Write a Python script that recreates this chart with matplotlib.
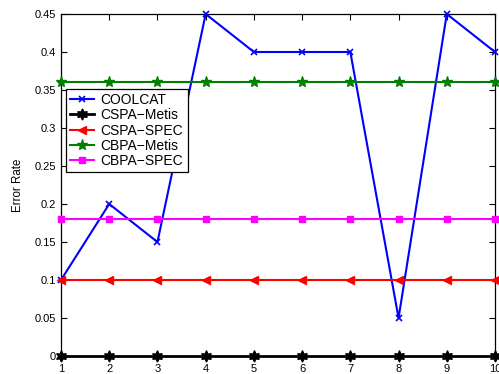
import matplotlib
matplotlib.use("Agg")
import matplotlib.pyplot as plt
from matplotlib.ticker import FixedLocator, FuncFormatter

plt.rcParams['font.family'] = ['Liberation Sans', 'DejaVu Sans']

runs = [1, 2, 3, 4, 5, 6, 7, 8, 9, 10]
coolcat = [0.1, 0.2, 0.15, 0.45, 0.4, 0.4, 0.4, 0.05, 0.45, 0.4]
cspa_metis = [0, 0, 0, 0, 0, 0, 0, 0, 0, 0]
cspa_spec = [0.1, 0.1, 0.1, 0.1, 0.1, 0.1, 0.1, 0.1, 0.1, 0.1]
cbpa_metis = [0.36, 0.36, 0.36, 0.36, 0.36, 0.36, 0.36, 0.36, 0.36, 0.36]
cbpa_spec = [0.18, 0.18, 0.18, 0.18, 0.18, 0.18, 0.18, 0.18, 0.18, 0.18]
y_ticks = [0, 0.05, 0.1, 0.15, 0.2, 0.25, 0.3, 0.35, 0.4, 0.45]

fig = plt.figure(figsize=(4.99, 3.74), dpi=100)
ax = fig.add_axes([61 / 499, 1 - 356 / 374, 434 / 499, 342 / 374])

ax.plot(runs, coolcat, color=(0, 0, 1), lw=1.5, marker='x', ms=4, mew=1.2,
        label='COOLCAT', clip_on=False, zorder=3)
ax.plot(runs, cspa_metis, color='black', lw=2.0, marker=(6, 1, 0), ms=8,
        label='CSPA\u2212Metis', clip_on=False, zorder=3)
ax.plot(runs, cspa_spec, color=(1, 0, 0), lw=1.5, marker='<', ms=5.5,
        label='CSPA\u2212SPEC', clip_on=False, zorder=3)
ax.plot(runs, cbpa_metis, color=(0, 0.5, 0), lw=1.5, marker='*', ms=8,
        label='CBPA\u2212Metis', clip_on=False, zorder=3)
ax.plot(runs, cbpa_spec, color=(1, 0, 1), lw=1.5, marker='s', ms=4.3,
        label='CBPA\u2212SPEC', clip_on=False, zorder=3)

ax.set_xlim(1, 10)
ax.set_ylim(0, 0.45)
ax.xaxis.set_major_locator(FixedLocator(runs))
ax.yaxis.set_major_locator(FixedLocator(y_ticks))
ax.yaxis.set_major_formatter(FuncFormatter(lambda v, p: ('%.2f' % v).rstrip('0').rstrip('.')))
ax.tick_params(direction='in', top=True, right=True, length=4, width=0.8,
               labelsize=8, pad=3.5)
ax.tick_params(axis='x', pad=5.5)
for s in ax.spines.values():
    s.set_linewidth(0.9)

ax.set_ylabel('Error Rate', fontsize=8.3, labelpad=8)

leg = ax.legend(loc='upper left', bbox_to_anchor=(0.0115, 0.782), fontsize=10,
                frameon=True, fancybox=False, edgecolor='black', framealpha=1,
                borderpad=0.3, labelspacing=0.1, handlelength=1.7,
                handletextpad=0.5, borderaxespad=0)
leg.get_frame().set_linewidth(0.9)

fig.savefig('out.png', dpi=100)
